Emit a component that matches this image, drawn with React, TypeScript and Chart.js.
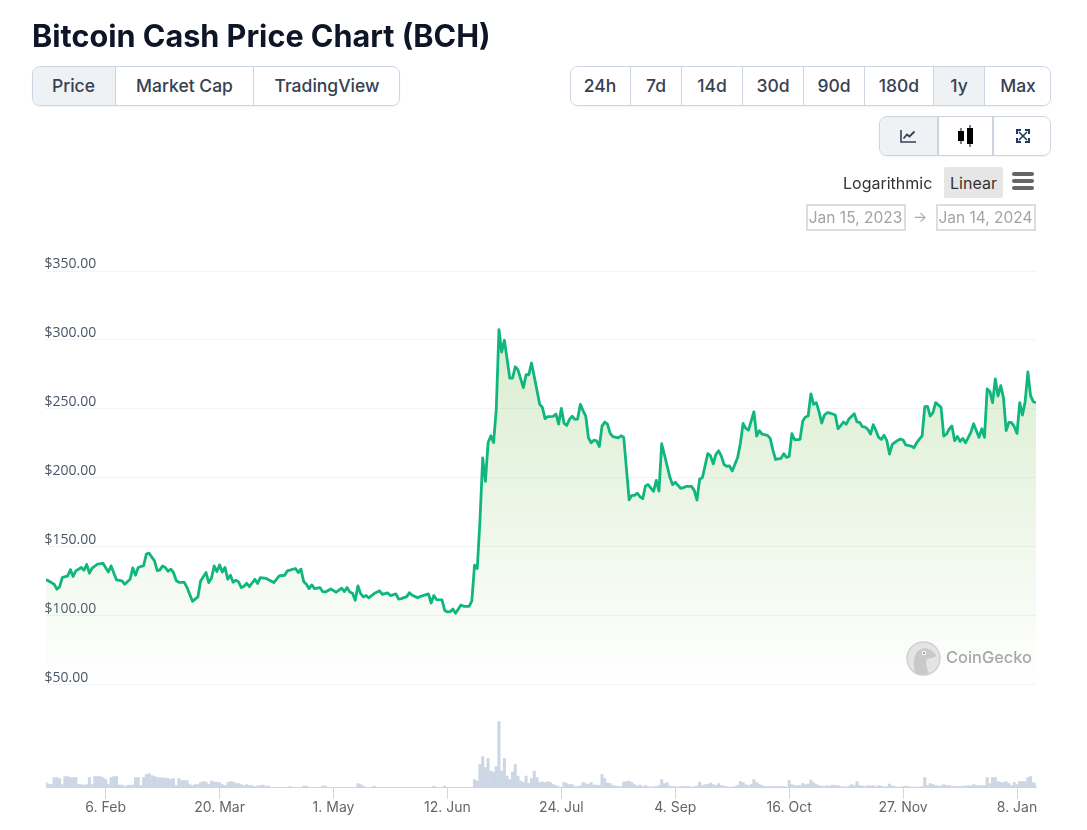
import React, { useEffect, useRef } from "react";
import { Chart, registerables } from "chart.js";

Chart.register(...registerables);

const TITLE = "Bitcoin Cash Price Chart (BCH)";
const viewTabs = ["Price", "Market Cap", "TradingView"];
const rangeTabs = ["24h", "7d", "14d", "30d", "90d", "180d", "1y", "Max"];

// Days since 15 Jan 2023
const priceDays = [
  0, 2, 3, 4, 5, 6, 8, 9, 10, 11, 13, 14, 15, 16, 17, 19, 21, 23, 24, 26, 28, 29, 31, 32, 33, 34, 36, 37, 38, 40,
  41, 42, 43, 44, 45, 46, 47, 48, 49, 51, 52, 54, 56, 57, 59, 60, 61, 62, 63, 64, 65, 66, 67, 68, 69, 70, 71, 72, 73, 74,
  75, 77, 78, 79, 81, 84, 86, 88, 89, 92, 93, 94, 95, 96, 97, 98, 99, 101, 102, 103, 105, 107, 109, 110, 111, 112, 113, 114, 115, 116,
  117, 118, 119, 121, 123, 124, 126, 127, 129, 130, 131, 133, 134, 135, 137, 139, 141, 142, 143, 144, 146, 147, 148, 149, 150, 151, 153, 154, 156, 157,
  158, 159, 160, 161, 162, 163, 164, 165, 166, 167, 168, 169, 171, 172, 173, 174, 176, 177, 178, 179, 180, 182, 183, 184, 185, 187, 188, 189, 190, 191,
  192, 193, 194, 195, 196, 197, 198, 199, 200, 201, 202, 203, 204, 205, 206, 207, 208, 209, 211, 212, 213, 215, 216, 217, 218, 219, 220, 221, 222, 224,
  225, 226, 227, 230, 231, 232, 234, 235, 236, 238, 239, 240, 241, 242, 244, 245, 246, 247, 248, 249, 250, 251, 252, 253, 254, 255, 256, 257, 258, 259,
  261, 262, 263, 264, 266, 267, 268, 269, 271, 272, 273, 274, 275, 276, 278, 279, 280, 281, 282, 283, 284, 285, 286, 287, 288, 289, 291, 292, 293, 294,
  295, 296, 298, 299, 300, 301, 302, 303, 304, 305, 306, 307, 308, 309, 310, 311, 312, 314, 315, 316, 317, 319, 320, 321, 322, 323, 324, 325, 326, 327,
  328, 330, 331, 332, 333, 334, 335, 336, 337, 338, 339, 341, 342, 344, 345, 346, 347, 348, 349, 350, 351, 352, 353, 354, 355, 356, 357, 358, 359, 360,
  361, 362, 363, 364, 365,
];

const priceValues = [
  126.4, 124.2, 123.0, 119.4, 121.1, 127.8, 129.0, 133.6, 128.6, 132.7, 135.1, 133.2, 137.3, 131.0, 134.6, 137.5, 138.2, 131.9, 136.3, 126.1, 125.4, 123.0, 126.6, 134.8, 129.5, 135.1, 136.5, 144.8, 145.5, 139.9,
  132.9, 133.4, 136.3, 135.1, 132.4, 133.9, 131.5, 125.7, 124.4, 124.4, 120.6, 110.6, 113.8, 125.4, 131.5, 124.2, 127.3, 136.3, 132.2, 137.0, 131.9, 135.1, 126.6, 129.5, 124.4, 125.9, 124.7, 120.6, 121.5, 123.7,
  121.3, 126.6, 123.5, 127.8, 127.3, 124.2, 129.0, 129.5, 132.7, 134.4, 131.5, 133.9, 124.9, 123.0, 119.8, 122.5, 119.8, 120.6, 117.7, 117.4, 119.6, 117.2, 120.1, 117.7, 120.6, 117.4, 116.5, 111.4, 121.8, 116.2,
  113.8, 114.8, 113.1, 116.2, 118.2, 115.7, 116.7, 114.8, 116.0, 112.3, 112.6, 114.0, 116.9, 115.0, 113.3, 114.8, 116.0, 109.4, 114.8, 111.9, 111.6, 104.1, 102.9, 103.1, 105.1, 101.9, 108.0, 107.0, 107.0, 110.9,
  136.8, 134.4, 169.2, 214.6, 197.6, 225.5, 230.6, 225.7, 249.3, 307.5, 291.3, 299.8, 272.3, 272.3, 280.6, 278.4, 265.5, 274.8, 274.8, 283.3, 273.5, 253.6, 251.2, 243.0, 244.4, 244.7, 246.4, 239.1, 250.5, 239.6,
  238.1, 242.5, 244.7, 242.5, 242.7, 253.4, 248.8, 244.9, 229.1, 225.5, 227.4, 226.9, 222.8, 237.6, 240.5, 239.0, 232.3, 229.9, 229.1, 230.6, 229.4, 184.2, 187.4, 187.4, 189.0, 186.4, 185.0, 194.2, 195.2, 190.3,
  198.3, 190.5, 224.8, 200.7, 195.2, 196.9, 192.5, 193.0, 193.9, 193.9, 191.0, 184.0, 199.3, 200.2, 217.7, 216.0, 210.2, 217.2, 219.7, 215.8, 209.7, 208.5, 208.7, 205.1, 210.0, 214.8, 225.0, 239.6, 236.0, 234.7,
  248.0, 230.4, 234.3, 231.8, 230.9, 228.7, 220.2, 213.4, 214.2, 217.6, 214.9, 215.6, 232.1, 227.7, 228.0, 241.3, 244.2, 244.9, 260.9, 253.4, 254.6, 248.1, 239.8, 245.6, 247.3, 247.1, 245.6, 235.7, 237.9, 240.6,
  238.9, 242.7, 246.6, 240.6, 240.3, 237.2, 236.9, 235.2, 231.8, 238.6, 234.3, 229.4, 228.0, 230.9, 227.0, 217.3, 224.3, 227.2, 228.2, 227.5, 223.9, 223.1, 221.9, 225.5, 228.2, 230.4, 251.7, 251.9, 244.9, 247.3,
  254.6, 251.2, 230.4, 231.8, 235.5, 237.7, 227.0, 230.1, 226.5, 228.7, 225.5, 233.0, 239.3, 229.4, 235.7, 229.4, 264.5, 262.6, 254.6, 271.8, 259.4, 266.9, 258.2, 234.3, 240.3, 240.1, 237.2, 232.3, 254.6, 245.6,
  255.3, 276.9, 259.7, 255.3, 254.6,
];

// One value per day (relative volume)
const volumeValues = [
  5, 3.5, 3, 10, 10, 9, 3, 11, 11, 10,
  10, 10, 3, 3, 2.5, 3, 10, 3, 11, 11,
  11, 10, 8, 3, 10, 11, 11, 2.5, 2.5, 1,
  2, 2.5, 2.5, 10, 10, 2, 10, 13, 14, 12,
  11, 10, 10, 9.5, 9.5, 9, 8, 9, 2, 9,
  7, 7, 7, 3, 2, 3, 3, 5, 6, 5.5,
  3, 6.5, 5.5, 5.5, 5, 3, 2, 5, 6, 5.5,
  4, 4, 3, 2, 3, 2, 2, 1, 1.5, 2,
  2.5, 1.5, 1.5, 0.3, 0.3, 0.3, 0.3, 0.3, 0.3, 0.3,
  1, 0.3, 0.3, 0.3, 0.3, 1.5, 1.5, 0.3, 0.3, 0.3,
  0.3, 0.3, 1.5, 1.5, 0.3, 0.3, 0.3, 0.3, 0.3, 0.3,
  0.3, 0.3, 0.3, 0.3, 0.3, 4, 3, 1.5, 0.3, 0.3,
  0.3, 1.5, 0.3, 0.3, 0.3, 0.3, 0.3, 0.3, 0.3, 0.3,
  0.3, 0.3, 0.3, 0.3, 0.3, 0.3, 0.3, 0.3, 0.3, 0.3,
  0.3, 0.3, 0.3, 1.5, 0.3, 0.3, 0.3, 1.5, 0.3, 0.3,
  0.3, 0.3, 0.3, 0.3, 0.3, 0.3, 0.3, 0.3, 8, 6.5,
  23, 31, 20, 29, 16.5, 15.5, 21, 66, 16.5, 29,
  11.5, 8, 15.5, 23, 11.5, 6.5, 5, 11.5, 4, 9,
  16.5, 10, 5, 5.5, 5, 6, 5, 3, 2, 1,
  0.5, 5, 4, 3, 3, 1, 1, 1.5, 5, 4,
  3, 5, 2.5, 2.5, 2, 13, 9, 4.5, 4, 2,
  1.5, 1, 1, 5.5, 6, 6.5, 5, 3, 1.5, 2.5,
  1, 2, 1, 0.5, 1, 1, 2, 8, 4, 5,
  1.5, 1, 1, 0.5, 1, 1, 1, 1, 0.5, 1,
  1.5, 5.5, 2, 3, 3, 4.5, 3, 2, 4, 2,
  1.5, 1, 0.5, 0.5, 1, 2, 6, 5, 3, 2,
  3, 8, 5, 3, 2, 1, 1, 1, 1, 1,
  1, 1, 1, 0.5, 7, 3, 2, 2, 2, 4,
  3, 3.5, 7.5, 5, 3, 2, 1.5, 1, 2, 1.5,
  2.5, 2, 2, 1, 1, 0.5, 1.5, 3, 2, 6,
  2, 1.5, 1, 2, 1.5, 2, 1, 2, 1.5, 0.5,
  1, 3.5, 1.5, 1, 0.5, 0.5, 1, 1.5, 1, 0.5,
  0.5, 0.5, 0.5, 1, 10, 2, 4, 3, 2, 1.5,
  1.5, 3, 2, 2, 1.5, 1, 1, 1, 1.5, 1.5,
  2, 1.5, 3, 2, 2, 2, 2, 10, 4, 10,
  10, 6, 5, 5, 6, 4, 2, 5, 3, 6,
  6, 6, 10, 11, 5, 4,
];

const xTickDays = [22, 64, 106, 148, 190, 232, 274, 316, 358];
const xTickLabels = ["6. Feb", "20. Mar", "1. May", "12. Jun", "24. Jul", "4. Sep", "16. Oct", "27. Nov", "8. Jan"];
const yTicks = [50, 100, 150, 200, 250, 300, 350];

const UI = "Inter, sans-serif";

const abs = (l: number, t: number, w: number, h: number): React.CSSProperties => ({
  position: "absolute",
  left: l,
  top: t,
  width: w,
  height: h,
  boxSizing: "border-box",
});

function ButtonGroup({ left, top, height, edges, items, active, divider = 1 }: any) {
  const width = edges[edges.length - 1];
  return (
    <div
      style={{
        ...abs(left, top, width, height),
        border: "1px solid #cbd5e1",
        borderRadius: 8,
        overflow: "hidden",
        background: "#fff",
        boxShadow: "0 1px 2px rgba(16,24,40,0.05)",
      }}
    >
      {items.map((it: any, i: number) => (
        <div
          key={i}
          style={{
            position: "absolute",
            left: edges[i] - 1,
            top: 0,
            width: edges[i + 1] - edges[i],
            height: height - 2,
            boxSizing: "border-box",
            display: "flex",
            alignItems: "center",
            justifyContent: "center",
            paddingBottom: 1,
            background: i === active ? "#eff2f5" : "#fff",
            borderLeft: i === 0 ? "none" : `${divider}px solid #cbd5e1`,
            color: "#364152",
            font: `500 17.5px ${UI}`,
          }}
        >
          {it}
        </div>
      ))}
    </div>
  );
}

const LineIcon = (
  <svg width="16" height="14" viewBox="0 0 16 14" fill="none">
    <path d="M1 1V13H16" stroke="#334155" strokeWidth="1.6" />
    <path d="M3.5 9.5L7 5.5L9.5 7.5L14.5 2.5" stroke="#334155" strokeWidth="1.8" />
  </svg>
);
const CandleIcon = (
  <svg width="16" height="22" viewBox="0 0 16 22">
    <rect x="0" y="6" width="6" height="10" fill="#000" />
    <rect x="2.5" y="3" width="1" height="16" fill="#000" />
    <rect x="9" y="3" width="6" height="16" fill="#000" />
    <rect x="11.5" y="0" width="1" height="22" fill="#000" />
  </svg>
);
const ExpandIcon = (
  <svg width="14" height="14" viewBox="0 0 14 14" fill="none" stroke="#1e3a5f" strokeWidth="2">
    <path d="M1 5V1H5M9 1H13V5M13 9V13H9M5 13H1V9" />
    <path d="M3 3L11 11M11 3L3 11" strokeWidth="1.6" />
  </svg>
);

export default function App() {
  const ref = useRef<HTMLCanvasElement>(null);
  useEffect(() => {
    const chart = new Chart(ref.current as HTMLCanvasElement, {
      data: {
        datasets: [
          {
            type: "line",
            label: "Price",
            yAxisID: "y",
            xAxisID: "x",
            data: priceDays.map((d, i) => ({ x: d, y: priceValues[i] })),
            borderColor: "#0fb77e",
            borderWidth: 2.8,
            borderJoinStyle: "round",
            pointRadius: 0,
            tension: 0,
            fill: { value: 50 },
            backgroundColor: (ctx: any) => {
              const c = ctx.chart;
              const s = c.scales.y;
              if (!s || !c.chartArea) return "rgba(0,0,0,0)";
              const top = s.getPixelForValue(Math.max(...priceValues));
              const g = c.ctx.createLinearGradient(0, top, 0, s.getPixelForValue(50));
              g.addColorStop(0, "rgba(150,205,120,0.36)");
              g.addColorStop(1, "rgba(150,205,120,0)");
              return g;
            },
            order: 1,
          } as any,
          {
            type: "bar",
            label: "Volume",
            yAxisID: "v",
            xAxisID: "x",
            data: volumeValues.map((v, i) => ({ x: i, y: v })),
            backgroundColor: "#ccd6e4",
            barThickness: 2.4,
            order: 2,
          } as any,
        ],
      },
      options: {
        responsive: false,
        animation: false,
        devicePixelRatio: 1,
        layout: { padding: { left: 46, right: 51, top: 271, bottom: 12.5 } },
        plugins: { legend: { display: false }, tooltip: { enabled: false } },
        scales: {
          x: {
            type: "linear",
            position: "bottom",
            offset: false,
            min: 0,
            max: 365,
            afterBuildTicks: (axis: any) => {
              axis.ticks = xTickDays.map((value) => ({ value }));
            },
            ticks: {
              autoSkip: false,
              maxRotation: 0,
              color: "#666666",
              font: { family: UI, size: 14 },
              padding: 1,
              callback: (v: any) => xTickLabels[xTickDays.indexOf(v)],
            },
            grid: { offset: false, drawOnChartArea: false, drawTicks: true, tickLength: 11, tickColor: "#ccd6eb" },
            border: { color: "#ccd6eb" },
          },
          v: {
            type: "linear",
            position: "left",
            stack: "all",
            stackWeight: 102.5,
            min: 0,
            max: 102.5,
            ticks: { display: false },
            grid: { display: false, drawTicks: false },
            border: { display: false },
          },
          y: {
            type: "linear",
            position: "left",
            stack: "all",
            stackWeight: 413,
            min: 50,
            max: 350,
            afterBuildTicks: (axis: any) => {
              axis.ticks = yTicks.map((value) => ({ value }));
            },
            ticks: {
              mirror: true,
              padding: -0.5,
              labelOffset: -7,
              color: "#4a5568",
              font: { family: "'Open Sans', sans-serif", size: 14 },
              callback: (v: any) => "$" + Number(v).toFixed(2),
            },
            grid: { color: "#f0f3f8", drawTicks: false },
            border: { display: false },
          },
        },
      } as any,
    });
    return () => chart.destroy();
  }, []);

  return (
    <div style={{ position: "absolute", left: 0, top: 0, width: 1087, height: 830, overflow: "hidden", background: "#fff" }}>
      <canvas ref={ref} width={1087} height={830} style={{ position: "absolute", left: 0, top: 0 }} />
      <div
        style={{
          position: "absolute",
          left: 32,
          top: 16,
          font: `700 30.6px/40px ${UI}`,
          color: "#0d1526",
          whiteSpace: "nowrap",
        }}
      >
        {TITLE}
      </div>
      <ButtonGroup left={32} top={66} height={40} edges={[0, 83, 221, 368]} items={viewTabs} active={0} />
      <ButtonGroup left={570} top={66} height={40} edges={[0, 60, 111, 172, 233, 294, 363, 414, 481]} items={rangeTabs} active={6} />
      <ButtonGroup left={879} top={116} height={40} edges={[0, 58, 113, 172]} items={[LineIcon, CandleIcon, ExpandIcon]} active={0} divider={2} />

      <div style={{ position: "absolute", left: 843, top: 172, font: `400 16px/22px ${UI}`, color: "#333" }}>Logarithmic</div>
      <div
        style={{
          ...abs(944, 167, 59, 31),
          background: "#e6e6e6",
          borderRadius: 2,
          font: `400 16px/32px ${UI}`,
          color: "#333",
          textAlign: "center",
        }}
      >
        Linear
      </div>
      <div style={abs(1012, 172, 22, 18)}>
        {[0, 7, 14].map((t) => (
          <div key={t} style={{ ...abs(0, t, 22, 4), background: "#666", borderRadius: 2 }} />
        ))}
      </div>
      <div
        style={{
          ...abs(806, 204, 100, 27),
          border: "2px solid #ddd",
          paddingRight: 1,
          font: `400 15.5px/23px ${UI}`,
          color: "#a3a3a3",
          textAlign: "center",
          whiteSpace: "nowrap",
        }}
      >
        Jan 15, 2023
      </div>
      <div style={{ position: "absolute", left: 913, top: 206, font: `400 15px/22px ${UI}`, color: "#aaa" }}>→</div>
      <div
        style={{
          ...abs(936, 204, 100, 27),
          border: "2px solid #ddd",
          paddingRight: 1,
          font: `400 15.5px/23px ${UI}`,
          color: "#a3a3a3",
          textAlign: "center",
          whiteSpace: "nowrap",
        }}
      >
        Jan 14, 2024
      </div>

      <svg style={{ ...abs(906, 641, 35, 35) }} viewBox="0 0 35 35">
        <circle cx="17.5" cy="17.5" r="16.5" fill="#e4e4e4" stroke="#cfcfcf" strokeWidth="1.4" />
        <path d="M9 32C7 22 7 11 15 8C20 6 27 9 30 14C30 17 24 17 21 18C19 21 21 28 23 32C18 34 13 34 9 32Z" fill="#c9c9c9" />
        <circle cx="18" cy="12" r="2.2" fill="#fff" />
        <circle cx="18" cy="12" r="1.1" fill="#888" />
      </svg>
      <div style={{ position: "absolute", left: 946, top: 646, font: `500 16.4px/22px ${UI}`, color: "#a8a8a8" }}>CoinGecko</div>
    </div>
  );
}
